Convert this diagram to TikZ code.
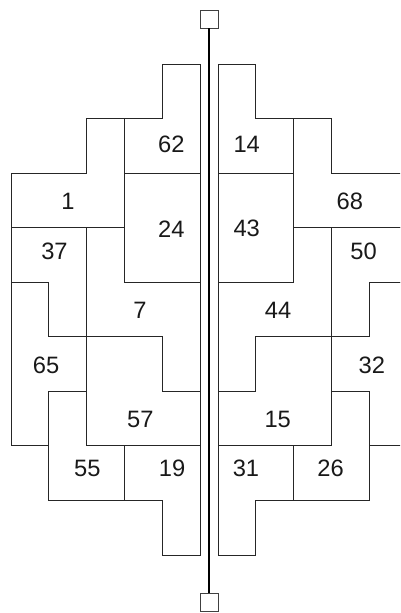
\documentclass[tikz,border=0pt]{standalone}
\usepackage{fontspec}
\setmainfont{Liberation Sans}
\tikzset{
  piece/.style={draw=black!85, line width=0.9pt},
  num/.style={font=\fontsize{23.7}{28}\selectfont, text=black!90, inner sep=0pt},
  peg/.style={draw=black!75, fill=white, line width=0.9pt, minimum size=18pt, inner sep=0pt},
}
\begin{document}
\begin{tikzpicture}[x=1pt, y=-1pt]
\useasboundingbox (0,0) rectangle (400,613);
\clip (0,0) rectangle (400,613);
% left half, grid of 37.8 x 54.56
\begin{scope}[shift={(11,64)}, x=37.8pt, y=-54.56pt]
  \draw[piece] (4,0) -- (5,0) -- (5,2) -- (3,2) -- (3,1) -- (4,1) -- cycle;
  \draw[piece] (2,1) -- (3,1) -- (3,3) -- (0,3) -- (0,2) -- (2,2) -- cycle;
  \draw[piece] (3,2) -- (5,2) -- (5,4) -- (3,4) -- cycle;
  \draw[piece] (0,3) -- (2,3) -- (2,5) -- (1,5) -- (1,4) -- (0,4) -- cycle;
  \draw[piece] (2,3) -- (3,3) -- (3,4) -- (5,4) -- (5,6) -- (4,6) -- (4,5) -- (2,5) -- cycle;
  \draw[piece] (0,4) -- (1,4) -- (1,5) -- (2,5) -- (2,6) -- (1,6) -- (1,7) -- (0,7) -- cycle;
  \draw[piece] (2,5) -- (4,5) -- (4,6) -- (5,6) -- (5,7) -- (2,7) -- cycle;
  \draw[piece] (1,6) -- (2,6) -- (2,7) -- (3,7) -- (3,8) -- (1,8) -- cycle;
  \draw[piece] (3,7) -- (5,7) -- (5,9) -- (4,9) -- (4,8) -- (3,8) -- cycle;
  \node[num] (n62) at (4.24,1.48) {62};
  \node[num] (n1)  at (1.51,2.51) {1};
  \node[num] (n24) at (4.24,3.02) {24};
  \node[num] (n37) at (1.15,3.44) {37};
  \node[num] (n7)  at (3.41,4.51) {7};
  \node[num] (n65) at (0.93,5.52) {65};
  \node[num] (n57) at (3.42,6.51) {57};
  \node[num] (n55) at (2.02,7.42) {55};
  \node[num] (n19) at (4.26,7.42) {19};
\end{scope}
% right half, mirrored
\begin{scope}[shift={(407,64)}, x=-37.8pt, y=-54.56pt]
  \draw[piece] (4,0) -- (5,0) -- (5,2) -- (3,2) -- (3,1) -- (4,1) -- cycle;
  \draw[piece] (2,1) -- (3,1) -- (3,3) -- (0,3) -- (0,2) -- (2,2) -- cycle;
  \draw[piece] (3,2) -- (5,2) -- (5,4) -- (3,4) -- cycle;
  \draw[piece] (0,3) -- (2,3) -- (2,5) -- (1,5) -- (1,4) -- (0,4) -- cycle;
  \draw[piece] (2,3) -- (3,3) -- (3,4) -- (5,4) -- (5,6) -- (4,6) -- (4,5) -- (2,5) -- cycle;
  \draw[piece] (0,4) -- (1,4) -- (1,5) -- (2,5) -- (2,6) -- (1,6) -- (1,7) -- (0,7) -- cycle;
  \draw[piece] (2,5) -- (4,5) -- (4,6) -- (5,6) -- (5,7) -- (2,7) -- cycle;
  \draw[piece] (1,6) -- (2,6) -- (2,7) -- (3,7) -- (3,8) -- (1,8) -- cycle;
  \draw[piece] (3,7) -- (5,7) -- (5,9) -- (4,9) -- (4,8) -- (3,8) -- cycle;
  \node[num] (n14) at (4.24,1.48) {14};
  \node[num] (n68) at (1.51,2.51) {68};
  \node[num] (n43) at (4.24,3.02) {43};
  \node[num] (n50) at (1.15,3.44) {50};
  \node[num] (n44) at (3.41,4.51) {44};
  \node[num] (n32) at (0.93,5.52) {32};
  \node[num] (n15) at (3.42,6.51) {15};
  \node[num] (n26) at (2.02,7.42) {26};
  \node[num] (n31) at (4.26,7.42) {31};
\end{scope}
% axis with end pegs
\node[peg] (top) at (209,19) {};
\node[peg] (bot) at (209,602) {};
\draw[line width=2.5pt] (top) -- (bot);
\end{tikzpicture}
\end{document}
